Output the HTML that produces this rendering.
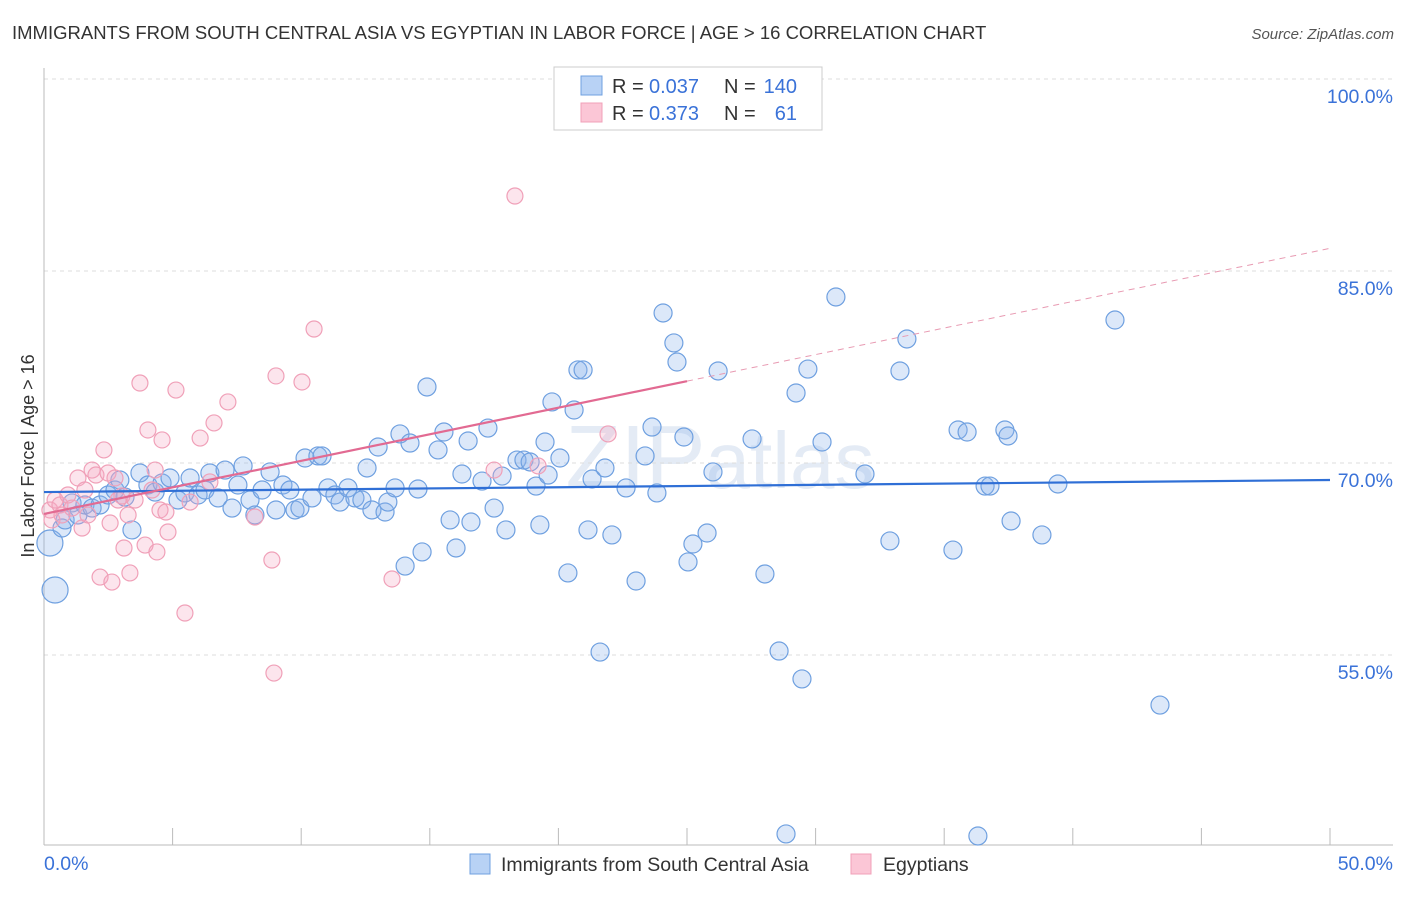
<!DOCTYPE html>
<html><head><meta charset="utf-8"><style>
body{margin:0;background:#fff;font-family:"Liberation Sans",sans-serif}
svg text{font-family:"Liberation Sans",sans-serif}
</style></head><body>
<svg id="chart" width="1406" height="892" xmlns="http://www.w3.org/2000/svg">
<text x="12" y="39" font-size="18.5" fill="#333">IMMIGRANTS FROM SOUTH CENTRAL ASIA VS EGYPTIAN IN LABOR FORCE | AGE &gt; 16 CORRELATION CHART</text>
<text x="1394" y="39" font-size="15" fill="#555" text-anchor="end" font-style="italic">Source: ZipAtlas.com</text>
<text x="720" y="488" font-size="90" fill="#e4ebf5" text-anchor="middle" font-family="Liberation Serif">ZIP<tspan font-family="Liberation Sans" font-size="80">atlas</tspan></text>
<g id="grid"></g>
<g id="axes"></g>
<g id="pts"></g>
<g id="lines"></g>
<text transform="translate(34,456) rotate(-90)" font-size="18" fill="#333" text-anchor="middle">In Labor Force | Age &gt; 16</text>
<g>
<rect x="554" y="67" width="268" height="63" fill="#fff" stroke="#ccc"/>
<rect x="581" y="76" width="21" height="19" fill="#b8d2f5" stroke="#6fa0e0"/>
<rect x="581" y="103" width="21" height="19" fill="#fbc6d6" stroke="#f0a0b8"/>
<text x="612" y="93" font-size="20" fill="#333">R =</text>
<text x="649" y="93" font-size="20" fill="#3a72d8">0.037</text>
<text x="724" y="93" font-size="20" fill="#333">N =</text>
<text x="797" y="93" font-size="20" fill="#3a72d8" text-anchor="end">140</text>
<text x="612" y="120" font-size="20" fill="#333">R =</text>
<text x="649" y="120" font-size="20" fill="#3a72d8">0.373</text>
<text x="724" y="120" font-size="20" fill="#333">N =</text>
<text x="797" y="120" font-size="20" fill="#3a72d8" text-anchor="end">61</text>
</g>
<g>
<rect x="470" y="854" width="20" height="20" fill="#b8d2f5" stroke="#6fa0e0"/>
<text x="501" y="871" font-size="19.5" fill="#333">Immigrants from South Central Asia</text>
<rect x="851" y="854" width="20" height="20" fill="#fbc6d6" stroke="#f0a0b8"/>
<text x="883" y="871" font-size="19.5" fill="#333">Egyptians</text>
</g>
</svg>
<script>
const blueX=[.23,.43,.7,.82,1.09,1.32,1.59,1.87,2.18,2.49,2.76,2.95,3.15,3.42,3.73,4.04,4.32,4.59,4.9,5.21,5.48,5.68,5.99,6.26,6.45,6.77,7.04,7.31,7.54,7.74,8.01,8.2,8.48,8.79,9.02,9.29,9.56,9.76,9.95,10.15,10.42,10.65,10.81,11.04,11.31,11.51,11.82,12.09,12.36,12.56,12.75,12.99,13.26,13.37,13.65,13.84,14.04,14.23,14.54,14.7,14.89,15.32,15.55,15.79,16.02,16.25,16.49,16.6,17.03,17.26,17.5,17.81,17.96,18.39,18.66,18.9,19.13,19.28,19.48,19.6,19.75,20.06,20.37,20.61,20.76,20.96,21.15,21.31,21.62,21.81,22.08,22.63,23.02,23.37,23.64,23.83,24.07,24.49,24.61,24.88,25.04,25.23,25.78,26.01,26.21,27.53,28.03,28.58,28.85,29.24,29.47,29.7,30.25,30.79,31.92,32.89,33.28,33.55,35.34,35.54,35.89,36.31,36.59,36.78,37.36,37.48,37.6,38.8,39.42,41.64,43.39];
const blueY=[63.75,60.08,64.92,65.55,66.88,65.94,66.72,66.48,66.72,67.5,67.89,68.67,67.34,64.77,69.22,68.28,67.73,68.44,68.83,67.11,67.66,68.83,67.5,67.89,69.22,67.27,69.45,66.48,68.28,69.77,67.11,65.94,67.89,69.3,66.33,68.28,67.89,66.33,66.48,70.39,67.27,70.55,70.55,68.05,67.5,66.95,68.05,67.27,67.11,69.61,66.33,71.25,66.17,66.95,68.05,72.27,61.95,71.56,67.97,63.05,75.94,71.02,72.42,65.55,63.36,69.14,71.72,65.39,68.59,72.73,66.48,68.98,64.77,70.23,70.23,70.08,68.2,65.16,71.64,69.06,74.77,70.39,61.41,74.14,77.27,77.27,64.77,68.75,55.23,69.61,64.38,68.05,60.78,70.55,72.81,67.66,81.72,79.38,77.89,72.03,62.27,63.67,64.53,69.3,77.19,71.88,61.33,55.31,41.02,75.47,53.13,77.34,71.64,82.97,69.14,63.91,77.19,79.69,63.2,72.58,72.42,40.86,68.2,68.2,72.58,72.11,65.47,64.38,68.36,81.17,51.09];
const pinkX=[.23,.31,.43,.62,.7,.93,1.09,1.32,1.48,1.59,1.71,1.87,2.02,2.18,2.33,2.49,2.57,2.64,2.76,2.88,3.03,3.11,3.27,3.34,3.54,3.73,3.93,4.04,4.2,4.32,4.39,4.51,4.59,4.74,4.82,5.13,5.48,5.68,6.07,6.45,6.61,7.15,8.2,8.86,8.94,9.02,10.03,10.5,13.53,17.5,18.31,19.21,21.93];
const pinkY=[66.33,65.55,67.11,66.72,65.94,67.5,66.48,68.83,64.92,67.89,65.94,69.45,69.06,61.09,71.02,69.22,65.31,60.7,68.83,67.11,67.42,63.36,65.94,61.41,67.11,76.25,63.59,72.58,67.89,69.45,63.05,66.33,71.8,66.17,64.61,75.7,58.28,66.95,71.95,68.52,73.13,74.77,65.78,62.42,53.59,76.8,76.33,80.47,60.94,69.45,90.86,69.77,72.27];
const xTicks=[0,50];
const yTicks=[55,70,85,100];
const blueTrend=[67.73,68.67];
const pinkTrend=[66.02,0.415];
const NS="http://www.w3.org/2000/svg";
const X=v=>44+v/50*1286;
const Y=v=>463-(v-70)*12.8;
function mk(t,a,p){const e=document.createElementNS(NS,t);for(const k in a)e.setAttribute(k,a[k]);p.appendChild(e);return e;}
const grid=document.getElementById('grid'),axes=document.getElementById('axes'),pts=document.getElementById('pts'),lines=document.getElementById('lines');
yTicks.forEach(v=>{
 const l=mk('line',{x1:44,x2:1393,y1:Y(v),y2:Y(v),stroke:'#ddd','stroke-dasharray':'4,4'},grid);
 
 
 const t=mk('text',{x:1393,y:Y(v)+24,'font-size':19.5,fill:'#3a72d8','text-anchor':'end'},axes);
 t.textContent=v.toFixed(1)+'%';
 
 
});
const ax=mk('line',{x1:44,x2:44,y1:68,y2:845,stroke:'#bbb'},axes);


const bx=mk('line',{x1:44,x2:1393,y1:845,y2:845,stroke:'#bbb'},axes);


for(let k=0;k<=10;k++){const tk=mk('line',{x1:X(k*5),x2:X(k*5),y1:828,y2:845,stroke:'#bbb'},axes);
 
 }
xTicks.forEach((v,i)=>{const t=mk('text',{x:i?1393:44,y:870,'font-size':19.5,fill:'#3a72d8','text-anchor':i?'end':'start'},axes);
 t.textContent=v.toFixed(1)+'%';
 
 });
blueX.forEach((x,i)=>{const r=i<2?13:9;const c=mk('circle',{cx:X(x),cy:Y(blueY[i]),r:r,fill:'rgba(140,180,235,0.3)',stroke:'#6fa0e0','stroke-width':1.2},pts);
 
 });
pinkX.forEach((x,i)=>{const c=mk('circle',{cx:X(x),cy:Y(pinkY[i]),r:8,fill:'rgba(245,170,195,0.3)',stroke:'#f0a0b8','stroke-width':1.2},pts);
 
 });
const bl=mk('line',{x1:X(0),y1:Y(blueTrend[0]),x2:X(50),y2:Y(blueTrend[1]),stroke:'#2f6fd6','stroke-width':2.2},lines);


const pl=mk('line',{x1:X(0),y1:Y(pinkTrend[0]),x2:X(25),y2:Y(pinkTrend[0]+25*pinkTrend[1]),stroke:'#e26a92','stroke-width':2.2},lines);


const pd=mk('line',{x1:X(25),y1:Y(pinkTrend[0]+25*pinkTrend[1]),x2:X(50),y2:Y(pinkTrend[0]+50*pinkTrend[1]),stroke:'#e89ab2','stroke-width':1,'stroke-dasharray':'6,5'},lines);


</script>
</body></html>
